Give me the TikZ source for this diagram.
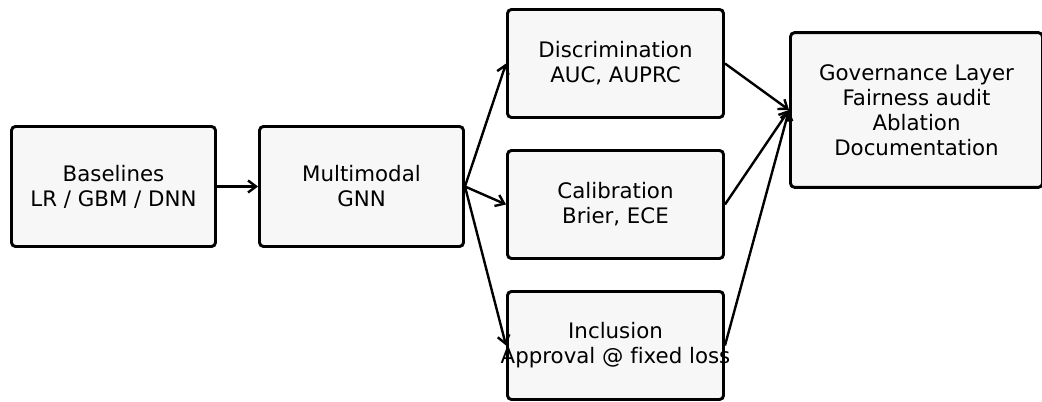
\documentclass[tikz,border=0pt]{standalone}
\usepackage{fontspec}
\setmainfont[Ligatures={NoCommon}]{DejaVu Sans}
\usepackage{xcolor}
\usepackage{tikz}
\usetikzlibrary{arrows.meta}

\definecolor{boxfill}{RGB}{247,247,247}
\tikzset{
  stagebox/.style={draw, fill=boxfill, line width=2.2pt, rounded corners=3pt, align=center, inner xsep=0pt,
    font=\fontsize{16}{18.8}\selectfont},
  flow/.style={line width=1.8pt, -{Straight Barb[length=6pt,width=9pt,line width=1.8pt]}}
}

\begin{document}
\begin{tikzpicture}[x=0.75pt,y=0.75pt,yscale=-1,xscale=1]
    \useasboundingbox (0,0) rectangle (1042,402);

    \draw (113.5,186.5) node [stagebox, minimum width=153pt, minimum height=90pt] (base) {Baselines\\LR / GBM / DNN};
    \draw (361.5,186.5) node [stagebox, minimum width=153pt, minimum height=90pt] (gnn) {Multimodal\\GNN};
    \draw (615.5,63.5) node [stagebox, minimum width=162pt, minimum height=81pt] (disc) {Discrimination\\AUC, AUPRC};
    \draw (615.5,204.5) node [stagebox, minimum width=162pt, minimum height=81pt] (calib) {Calibration\\Brier, ECE};
    \draw (615.5,345.5) node [stagebox, minimum width=162pt, minimum height=81pt] (incl) {Inclusion\\\makebox[0pt]{Approval @ fixed loss}};
    \draw (916.5,110) node [stagebox, minimum width=189pt, minimum height=116pt] (gov) {Governance Layer\\Fairness audit\\Ablation\\Documentation};

    \draw [flow] (base.east) -- (gnn.west);
    \draw [flow] (gnn.east) -- (disc.west);
    \draw [flow] (gnn.east) -- (calib.west);
    \draw [flow] (gnn.east) -- (incl.west);
    \draw [flow] (disc.east) -- (gov.west);
    \draw [flow] (calib.east) -- (gov.west);
    \draw [flow] (incl.east) -- (gov.west);
\end{tikzpicture}
\end{document}
